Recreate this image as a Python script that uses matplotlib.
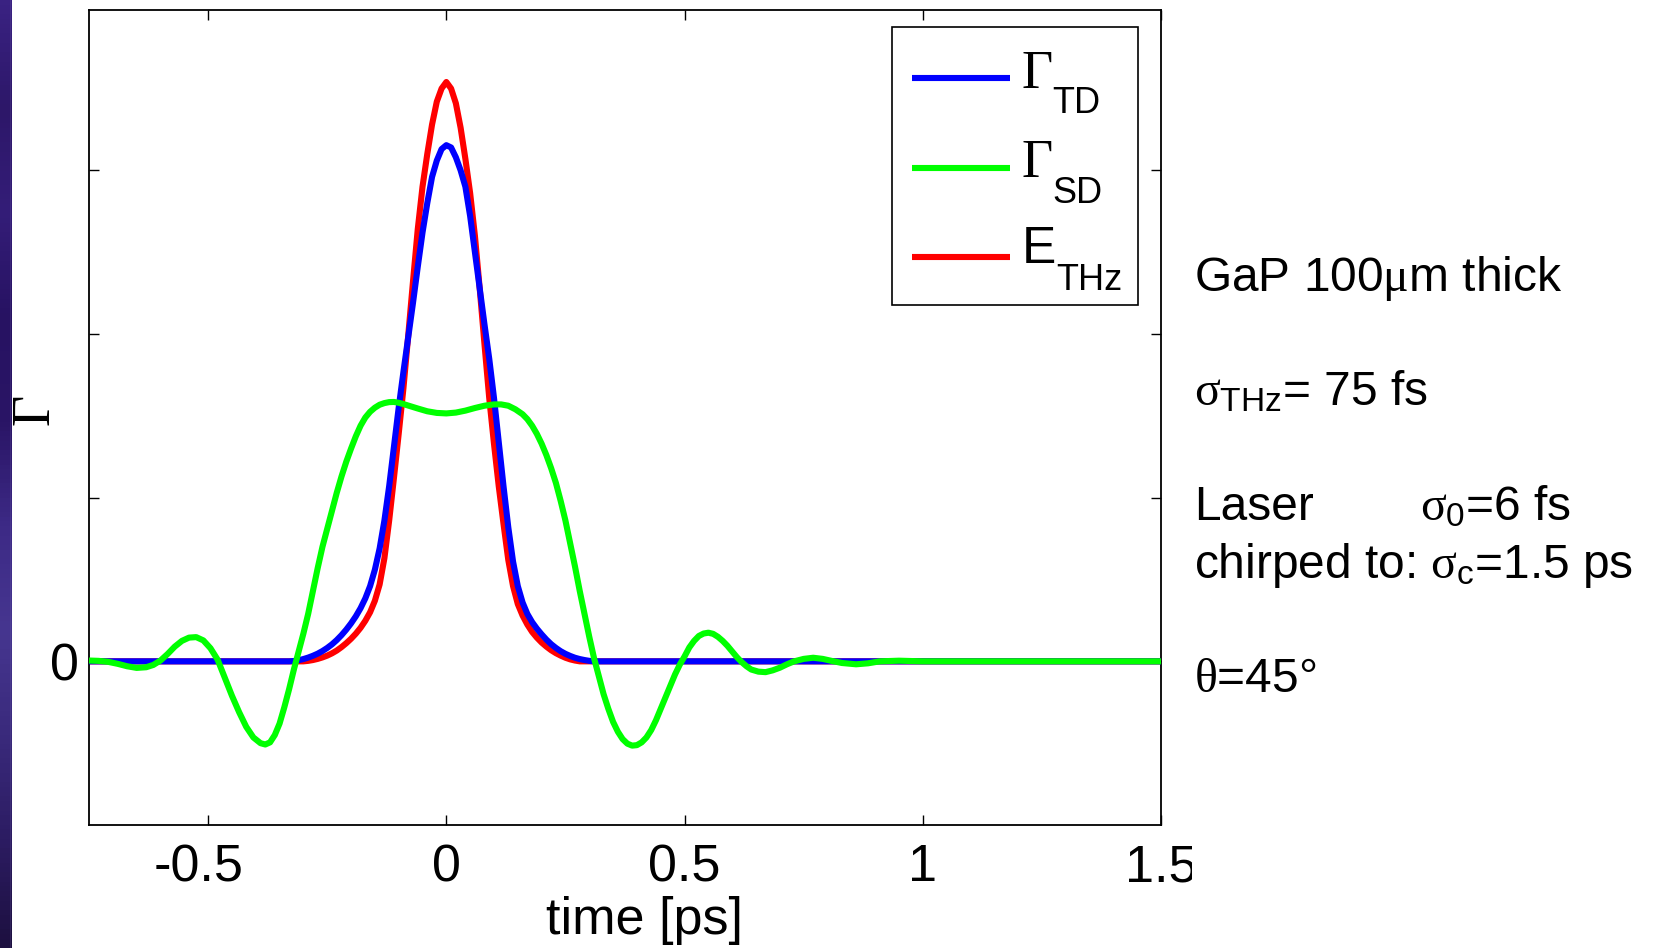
import numpy as np
import matplotlib
matplotlib.use("Agg")
import matplotlib.pyplot as plt
from matplotlib.patches import Rectangle
from matplotlib.lines import Line2D
from matplotlib.colors import LinearSegmentedColormap
from matplotlib.transforms import ScaledTranslation

plt.rcParams['font.family'] = ['Liberation Sans', 'DejaVu Sans']
plt.rcParams['axes.unicode_minus'] = False
plt.rcParams['mathtext.fontset'] = 'custom'
plt.rcParams['mathtext.rm'] = 'Liberation Serif'
plt.rcParams['mathtext.it'] = 'Liberation Serif'
plt.rcParams['mathtext.sf'] = 'Liberation Sans'
plt.rcParams['mathtext.bf'] = 'Liberation Serif:bold'

# ---- signals (time in ps, amplitude in arbitrary units) ----
# time-domain response Gamma_TD
t_td = [-0.75, -0.33, -0.32, -0.31, -0.30, -0.29, -0.28, -0.27, -0.26, -0.25,
        -0.24, -0.23, -0.22, -0.21, -0.20, -0.19, -0.18, -0.17, -0.16, -0.15,
        -0.14, -0.13, -0.12, -0.11, -0.10, -0.09, -0.08, -0.07, -0.06, -0.05,
        -0.04, -0.03, -0.02, -0.01, 0.0, 0.01, 0.02, 0.03, 0.04, 0.05, 0.06,
        0.07, 0.08, 0.09, 0.10, 0.11, 0.12, 0.13, 0.14, 0.15, 0.16, 0.17,
        0.18, 0.19, 0.20, 0.21, 0.22, 0.23, 0.24, 0.25, 0.26, 0.27, 0.28,
        0.29, 0.30, 0.31, 1.5]
gamma_td = [0.0, 0.0, 0.002, 0.007, 0.014, 0.023, 0.034, 0.047, 0.063, 0.082,
            0.104, 0.13, 0.16, 0.194, 0.232, 0.275, 0.325, 0.385, 0.46, 0.56,
            0.69, 0.86, 1.07, 1.31, 1.55, 1.77, 1.98, 2.19, 2.41, 2.62,
            2.80, 2.96, 3.06, 3.13, 3.154, 3.14, 3.08, 3.00, 2.90, 2.72, 2.50,
            2.28, 2.06, 1.85, 1.61, 1.34, 1.07, 0.82, 0.61, 0.46, 0.36, 0.29,
            0.24, 0.20, 0.165, 0.133, 0.105, 0.082, 0.062, 0.046, 0.033, 0.022,
            0.014, 0.008, 0.003, 0.0, 0.0]

# THz field E_THz
t_thz = [-0.75, -0.30, -0.29, -0.28, -0.27, -0.26, -0.25, -0.24, -0.23, -0.22,
         -0.21, -0.20, -0.19, -0.18, -0.17, -0.16, -0.15, -0.14, -0.13, -0.12,
         -0.11, -0.10, -0.09, -0.08, -0.07, -0.06, -0.05, -0.04, -0.03, -0.02,
         -0.01, 0.0, 0.01, 0.02, 0.03, 0.04, 0.05, 0.06, 0.07, 0.08, 0.09,
         0.10, 0.11, 0.12, 0.13, 0.14, 0.15, 0.16, 0.17, 0.18, 0.19, 0.20,
         0.21, 0.22, 0.23, 0.24, 0.25, 0.26, 0.27, 0.28, 1.5]
e_thz = [0.0, 0.0, 0.003, 0.008, 0.015, 0.024, 0.035, 0.049, 0.066, 0.087,
         0.111, 0.138, 0.169, 0.205, 0.248, 0.30, 0.37, 0.47, 0.63, 0.86,
         1.12, 1.39, 1.67, 1.99, 2.32, 2.64, 2.90, 3.10, 3.28, 3.42,
         3.50, 3.54, 3.50, 3.41, 3.26, 3.07, 2.86, 2.60, 2.28, 1.94, 1.61,
         1.33, 1.07, 0.84, 0.62, 0.46, 0.35, 0.28, 0.225, 0.18, 0.145, 0.115,
         0.09, 0.068, 0.05, 0.035, 0.022, 0.012, 0.005, 0.0, 0.0]

# spatial-domain response Gamma_SD
t_sd = [-0.75, -0.73, -0.71, -0.69, -0.67, -0.65, -0.63, -0.615, -0.60, -0.585,
        -0.57, -0.555, -0.54, -0.525, -0.51, -0.495, -0.48, -0.465, -0.45,
        -0.435, -0.42, -0.405, -0.39, -0.38, -0.37, -0.36, -0.35, -0.34,
        -0.33, -0.32, -0.31, -0.30, -0.29, -0.28, -0.27, -0.26, -0.25, -0.24,
        -0.23, -0.22, -0.21, -0.20, -0.19, -0.18, -0.17, -0.16, -0.15, -0.14,
        -0.13, -0.12, -0.11, -0.10, -0.09, -0.08, -0.06, -0.04, -0.02, 0.0,
        0.02, 0.04, 0.06, 0.08, 0.10, 0.115, 0.13, 0.145, 0.16, 0.17, 0.18,
        0.19, 0.20, 0.21, 0.22, 0.23, 0.24, 0.25, 0.26, 0.27, 0.28, 0.29,
        0.30, 0.31, 0.32, 0.33, 0.34, 0.35, 0.36, 0.37, 0.38, 0.39, 0.40,
        0.41, 0.42, 0.43, 0.44, 0.45, 0.46, 0.47, 0.48, 0.49, 0.50, 0.51,
        0.52, 0.53, 0.54, 0.55, 0.56, 0.57, 0.58, 0.59, 0.60, 0.61, 0.62,
        0.63, 0.64, 0.655, 0.67, 0.685, 0.70, 0.715, 0.73, 0.75, 0.77, 0.79,
        0.81, 0.83, 0.86, 0.885, 0.91, 0.95, 1.0, 1.5]
gamma_sd = [0.005, 0.003, -0.003, -0.015, -0.03, -0.04, -0.036, -0.022, 0.005,
            0.045, 0.09, 0.125, 0.145, 0.148, 0.128, 0.08, 0.01, -0.10, -0.21,
            -0.31, -0.40, -0.465, -0.50, -0.508, -0.495, -0.45, -0.38, -0.28,
            -0.17, -0.05, 0.06, 0.17, 0.29, 0.43, 0.57, 0.70, 0.81, 0.92,
            1.03, 1.13, 1.22, 1.30, 1.375, 1.44, 1.49, 1.525, 1.55, 1.568,
            1.578, 1.584, 1.585, 1.58, 1.572, 1.563, 1.545, 1.528, 1.518, 1.515,
            1.52, 1.532, 1.548, 1.562, 1.57, 1.57, 1.562, 1.54, 1.51, 1.48, 1.44,
            1.39, 1.33, 1.26, 1.18, 1.09, 0.98, 0.86, 0.72, 0.58, 0.43, 0.29,
            0.15, 0.02, -0.09, -0.20, -0.29, -0.37, -0.43, -0.475, -0.503, -0.515,
            -0.512, -0.495, -0.465, -0.42, -0.36, -0.29, -0.22, -0.15, -0.08,
            -0.02, 0.03, 0.085, 0.125, 0.155, 0.17, 0.175, 0.168, 0.15, 0.125,
            0.095, 0.06, 0.025, -0.005, -0.03, -0.05, -0.063, -0.066, -0.055,
            -0.039, -0.018, 0.0, 0.015, 0.022, 0.015, 0.002, -0.01, -0.018,
            -0.012, 0.0, 0.004, 0.0, 0.0]

x_ticks = [-0.5, 0, 0.5, 1, 1.5]
x_ticklabels = ['-0.5', '0', '0.5', '1', '1.5']
y_ticks = [0, 1, 2, 3]
y_ticklabels = ['0', '', '', '']

W, H = 1658, 948
fig = plt.figure(figsize=(W / 100, H / 100), dpi=100)
fig.patch.set_facecolor('white')

# slide-edge strip on the left
strip = fig.add_axes([0, 0, 11.5 / W, 1])
strip.axis('off')
cmap = LinearSegmentedColormap.from_list(
    'edge', ['#3a2282', '#2d1769', '#341d78', '#271262', '#2a1566',
             '#3d2a86', '#463690', '#3a2a7c', '#2c1c62', '#1d1040'])
strip.imshow(np.linspace(0, 1, 200).reshape(-1, 1), aspect='auto',
             cmap=cmap, extent=[0, 1, 0, 1])
strip.axvline(0.97, color='#7a6ab0', lw=1.0)

ax = fig.add_axes([89 / W, 1 - 825 / H, (1161 - 89) / W, (825 - 10) / H])
lw = 4.4
colors = {'TD': '#0000ff', 'SD': '#00ff00', 'THz': '#ff0000'}
l_thz, = ax.plot(t_thz, e_thz, color=colors['THz'], lw=lw, zorder=2,
                 solid_joinstyle='round', solid_capstyle='butt')
l_td, = ax.plot(t_td, gamma_td, color=colors['TD'], lw=lw, zorder=3,
                solid_joinstyle='round', solid_capstyle='butt')
l_sd, = ax.plot(t_sd, gamma_sd, color=colors['SD'], lw=lw, zorder=4,
                solid_joinstyle='round', solid_capstyle='butt')

ax.set_xlim(-0.75, 1.5)
ax.set_ylim(-1.0, 3.98)
ax.set_xticks(x_ticks)
ax.set_xticklabels(x_ticklabels)
ax.set_yticks(y_ticks)
ax.set_yticklabels(y_ticklabels)
ax.tick_params(direction='in', length=7.5, width=1.0, top=True, right=True,
               labelsize=37.5)
ax.tick_params(axis='x', pad=13)
ax.tick_params(axis='y', pad=7)
for s in ax.spines.values():
    s.set_linewidth(1.3)

# negative labels: the number is centred on the tick, the sign hangs left
for lab in ax.get_xticklabels():
    if lab.get_text().startswith('-'):
        lab.set_transform(lab.get_transform() +
                          ScaledTranslation(-9 / 100, 0, fig.dpi_scale_trans))

ax.set_xlabel('time [ps]', fontsize=37.5, va='baseline')
ax.xaxis.set_label_coords((645 - 89) / 1072, -(934 - 825) / 815)
ax.set_ylabel('Γ', fontsize=39, family='Liberation Serif', va='center', ha='center')
ax.yaxis.set_label_coords((35 - 89) / 1072, (825 - 409) / 815)

# legend box
def fx(x):
    return x / W

def fy(y):
    return 1 - y / H

fig.add_artist(Rectangle((fx(892), fy(305)), (1138 - 892) / W, (305 - 27) / H,
                         transform=fig.transFigure, facecolor='white',
                         edgecolor='black', lw=1.2, zorder=6))
legend_rows = [
    (l_td, 'Γ', 'TD', 77.7, 88.3, 113.3, 1021.5, 1052.5, 'Liberation Serif', 39),
    (l_sd, 'Γ', 'SD', 168.3, 176.7, 203.3, 1021.5, 1052.5, 'Liberation Serif', 39),
    (l_thz, 'E', 'THz', 256.7, 263.3, 290.0, 1021.5, 1056.5, 'Liberation Sans', 37),
]
for line, main, sub, ly, by, sby, mx, sx, fam, msize in legend_rows:
    fig.add_artist(Line2D([fx(911.7), fx(1010)], [fy(ly), fy(ly)],
                          transform=fig.transFigure, color=line.get_color(),
                          lw=lw, solid_capstyle='butt', zorder=7))
    fig.text(fx(mx), fy(by), main, family=fam, fontsize=msize,
             va='baseline', ha='left', zorder=7)
    fig.text(fx(sx), fy(sby), sub, fontsize=26, va='baseline', ha='left',
             zorder=7)

# run parameters beside the plot
fs = 34.5
def ftext(x, y, s, **kw):
    fig.text(fx(x), fy(y), s, fontsize=fs, va='baseline', ha='left', **kw)

ftext(1194, 291, r'GaP 100$\mu$m thick')
ftext(1194, 405, r'$\sigma_{\mathsf{THz}}$= 75 fs')
ftext(1194, 520, 'Laser')
ftext(1420, 520, r'$\sigma_{\mathsf{0}}$=6 fs')
ftext(1194, 578, r'chirped to: $\sigma_{\mathsf{c}}$=1.5 ps')
ftext(1194, 692, r'$\theta$=45°')

# the image is trimmed just right of the last tick label
fig.add_artist(Rectangle((1192 / W, 0), 1 - 1192 / W, (948 - 830) / H,
                         transform=fig.transFigure, facecolor='white',
                         edgecolor='none', zorder=10))

fig.savefig('out.png', dpi=100)
